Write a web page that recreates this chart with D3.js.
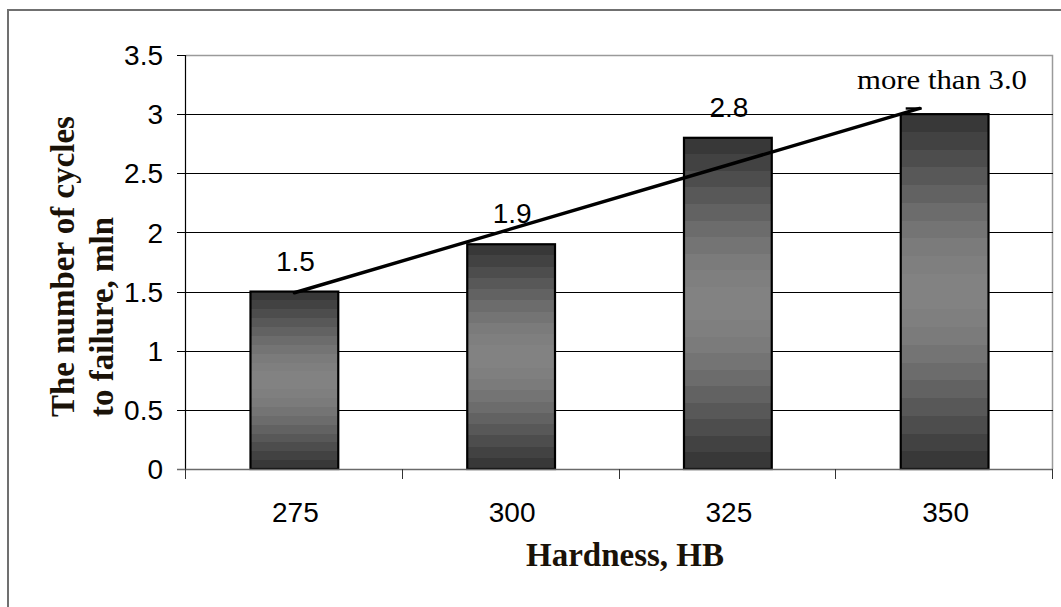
<!DOCTYPE html>
<html>
<head>
<meta charset="utf-8">
<script src="https://cdn.jsdelivr.net/npm/d3@7"></script>
<style>
  body { margin: 0; background: #fff; }
  svg { display: block; }
</style>
</head>
<body>
<svg id="chart" width="1061" height="607"></svg>
<script>
// Fatigue life against hardness
const categories = ["275", "300", "325", "350"];
const cycles = [1.5, 1.9, 2.8, 3.0];
const valueLabels = ["1.5", "1.9", "2.8", null];
const yTicks = [0, 0.5, 1, 1.5, 2, 2.5, 3, 3.5];
const yTickLabels = ["0", "0.5", "1", "1.5", "2", "2.5", "3", "3.5"];
const annotation = "more than 3.0";
const yTitleLines = ["The number of cycles", "to failure, mln"];
const xTitle = "Hardness, HB";
// category-index range covered by the fitted trend line
const trendSpan = [0, 2.885];

const W = 1061, H = 607;
const plot = { left: 186, right: 1053, top: 55, bottom: 469 };
const sans = "'Liberation Sans', Arial, sans-serif";
const serif = "'Liberation Serif', 'Times New Roman', serif";

const svg = d3.select("#chart");

const x = d3.scaleBand().domain(categories).range([plot.left, plot.right]).padding(0);
const y = d3.scaleLinear().domain([0, 3.5]).range([plot.bottom, plot.top]);
const barW = x.bandwidth() * 0.405;

// banded grey shading of the bars (dark edges, lighter middle)
const defs = svg.append("defs");
const grad = defs.append("linearGradient")
  .attr("id", "barShade").attr("x1", 0).attr("y1", 0).attr("x2", 0).attr("y2", 1);
const bands = 20;
for (let i = 0; i < bands; i++) {
  const t0 = i / bands, t1 = (i + 1) / bands, tm = (i + 0.5) / bands;
  const g = Math.round(52 + 78 * Math.pow(Math.sin(Math.PI * tm), 1.2));
  const c = d3.rgb(g, g, g).formatHex();
  grad.append("stop").attr("offset", t0).attr("stop-color", c);
  grad.append("stop").attr("offset", t1).attr("stop-color", c);
}

// outer frame
svg.append("rect")
  .attr("x", 8).attr("y", 10).attr("width", W + 40).attr("height", H + 40)
  .attr("fill", "none").attr("stroke", "#707070").attr("stroke-width", 2);

// plot border (top and right)
svg.append("path")
  .attr("d", `M${plot.left},${plot.top + 0.5}H${plot.right - 0.5}V${plot.bottom}`)
  .attr("fill", "none").attr("stroke", "#9a9a9a").attr("stroke-width", 1.5);

// horizontal gridlines
svg.append("g").selectAll("line")
  .data(yTicks.filter(v => v > 0 && v < 3.5))
  .join("line")
  .attr("x1", plot.left).attr("x2", plot.right)
  .attr("y1", d => Math.round(y(d)) + 0.5).attr("y2", d => Math.round(y(d)) + 0.5)
  .attr("stroke", "#000").attr("stroke-width", 1);

// y axis
const yAxis = svg.append("g");
yAxis.append("line")
  .attr("x1", plot.left - 0.5).attr("x2", plot.left - 0.5)
  .attr("y1", plot.top).attr("y2", plot.bottom)
  .attr("stroke", "#000").attr("stroke-width", 1.2);
yAxis.selectAll("line.tick")
  .data(yTicks)
  .join("line").attr("class", "tick")
  .attr("x1", plot.left - 9).attr("x2", plot.left)
  .attr("y1", d => Math.round(y(d)) + 0.5).attr("y2", d => Math.round(y(d)) + 0.5)
  .attr("stroke", "#000").attr("stroke-width", 1);
yAxis.selectAll("text")
  .data(yTicks)
  .join("text")
  .attr("x", 163).attr("y", d => y(d)).attr("dy", "0.36em")
  .attr("text-anchor", "end")
  .attr("font-family", sans).attr("font-size", 28).attr("fill", "#000")
  .text((d, i) => yTickLabels[i]);

// bars
svg.append("g").selectAll("rect")
  .data(cycles)
  .join("rect")
  .attr("x", (d, i) => x(categories[i]) + (x.bandwidth() - barW) / 2)
  .attr("y", d => y(d))
  .attr("width", barW)
  .attr("height", d => y(0) - y(d))
  .attr("fill", "url(#barShade)")
  .attr("stroke", "#000").attr("stroke-width", 2.2);

// x axis line and ticks at category boundaries
const xAxis = svg.append("g");
xAxis.append("line")
  .attr("x1", plot.left - 9).attr("x2", plot.right)
  .attr("y1", plot.bottom + 0.5).attr("y2", plot.bottom + 0.5)
  .attr("stroke", "#6a6a6a").attr("stroke-width", 1.5);
const bounds = categories.map(c => x(c)).concat([plot.right]);
xAxis.selectAll("line.tick")
  .data(bounds)
  .join("line").attr("class", "tick")
  .attr("x1", d => Math.round(d) - 0.5).attr("x2", d => Math.round(d) - 0.5)
  .attr("y1", plot.bottom).attr("y2", plot.bottom + 10)
  .attr("stroke", "#333").attr("stroke-width", 1);
xAxis.selectAll("text")
  .data(categories)
  .join("text")
  .attr("x", d => x(d) + x.bandwidth() / 2 + 1)
  .attr("y", 522)
  .attr("text-anchor", "middle")
  .attr("font-family", sans).attr("font-size", 28).attr("fill", "#000")
  .text(d => d);

// least-squares trend line through the bar values
const idx = cycles.map((d, i) => i);
const mx = d3.mean(idx), my = d3.mean(cycles);
const slope = d3.sum(idx, i => (i - mx) * (cycles[i] - my)) / d3.sum(idx, i => (i - mx) ** 2);
const icpt = my - slope * mx;
const xi = t => x(categories[0]) + x.bandwidth() / 2 + t * x.step();
svg.append("path")
  .datum(trendSpan)
  .attr("d", d3.line().x(t => xi(t)).y(t => y(icpt + slope * t)))
  .attr("fill", "none").attr("stroke", "#000").attr("stroke-width", 3.4)
  .attr("stroke-linecap", "round");
// short flat end stroke at the top of the trend line
const tEnd = trendSpan[1];
svg.append("line")
  .attr("x1", xi(tEnd) - 14).attr("x2", xi(tEnd) + 2)
  .attr("y1", y(icpt + slope * tEnd)).attr("y2", y(icpt + slope * tEnd))
  .attr("stroke", "#000").attr("stroke-width", 2.4);

// value labels above bars
svg.append("g").selectAll("text")
  .data(cycles.map((v, i) => ({ v, i, label: valueLabels[i] })).filter(d => d.label))
  .join("text")
  .attr("x", d => x(categories[d.i]) + x.bandwidth() / 2 + 1)
  .attr("y", d => y(d.v) - 21)
  .attr("text-anchor", "middle")
  .attr("font-family", sans).attr("font-size", 28).attr("fill", "#000")
  .text(d => d.label);

// annotation for the last bar
svg.append("text")
  .attr("x", plot.right - 26)
  .attr("y", y(cycles[3]) - 25)
  .attr("text-anchor", "end")
  .attr("font-family", serif).attr("font-size", 27).attr("fill", "#000")
  .attr("textLength", 170).attr("lengthAdjust", "spacingAndGlyphs")
  .text(annotation);

// axis titles
const yt = svg.append("text")
  .attr("transform", "translate(74,417) rotate(-90)")
  .attr("font-family", serif).attr("font-size", 33).attr("font-weight", "bold")
  .attr("fill", "#1a1208").attr("text-anchor", "start");
yt.selectAll("tspan")
  .data(yTitleLines)
  .join("tspan")
  .attr("x", 0).attr("dy", (d, i) => i === 0 ? 0 : 39)
  .text(d => d);

svg.append("text")
  .attr("x", 625).attr("y", 566)
  .attr("text-anchor", "middle")
  .attr("font-family", serif).attr("font-size", 33).attr("font-weight", "bold")
  .attr("fill", "#1a1208")
  .text(xTitle);
</script>
</body>
</html>
